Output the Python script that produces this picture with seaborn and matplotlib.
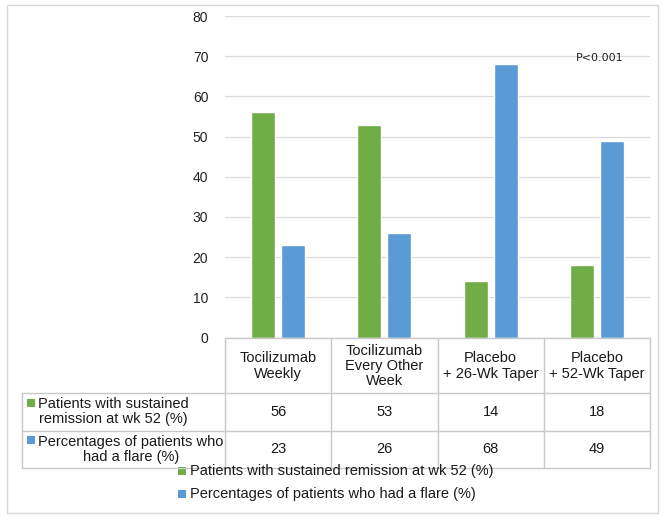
import matplotlib
matplotlib.use("Agg")
import matplotlib.pyplot as plt
from matplotlib.patches import Rectangle
import seaborn as sns
import pandas as pd

# data
categories = ["Tocilizumab\nWeekly", "Tocilizumab\nEvery Other\nWeek",
              "Placebo\n+ 26-Wk Taper", "Placebo\n+ 52-Wk Taper"]
series_names = ["Patients with sustained remission at wk 52 (%)",
                "Percentages of patients who had a flare (%)"]
row_labels = ["Patients with sustained\nremission at wk 52 (%)",
              "Percentages of patients who\nhad a flare (%)"]
remission = [56, 53, 14, 18]
flare = [23, 26, 68, 49]
y_ticks = [0, 10, 20, 30, 40, 50, 60, 70, 80]
colors = ["#70AD47", "#5B9BD5"]

rows = []
for cat, r, f in zip(categories, remission, flare):
    rows.append({"cat": cat, "series": series_names[0], "value": r})
    rows.append({"cat": cat, "series": series_names[1], "value": f})
df = pd.DataFrame(rows)

sns.set_theme(style="white")
plt.rcParams["font.family"] = ["Liberation Sans", "DejaVu Sans"]

W, H = 669, 522
fig = plt.figure(figsize=(W / 100, H / 100), dpi=100)

# pixel positions of the plot area
x0, x1 = 225, 650
y_top, y_zero = 16, 337.5
ax = fig.add_axes([x0 / W, 1 - y_zero / H, (x1 - x0) / W, (y_zero - y_top) / H])

sns.barplot(data=df, x="cat", y="value", hue="series", palette=colors,
            width=0.565, gap=0.2, saturation=1, ax=ax, legend=False, zorder=3)
ax.set_ylim(0, 80)
ax.set_xlim(-0.5, len(categories) - 0.5)
ax.set_yticks(y_ticks)
ax.set_yticklabels([str(t) for t in y_ticks], fontsize=10, color="#222222")
ax.set_xticks([])
ax.set_xlabel("")
ax.set_ylabel("")
ax.tick_params(axis="y", length=0, pad=12)
for s in ax.spines.values():
    s.set_visible(False)
ax.grid(axis="y", color="#D9D9D9", linewidth=0.9, zorder=0)
ax.text(3.03, 69.6, "P<0.001", ha="center", va="center", fontsize=8,
        family="DejaVu Sans", color="#222222")

# overlay in pixel coordinates for the data table and legend
ov = fig.add_axes([0, 0, 1, 1], facecolor="none")
ov.set_xlim(0, W)
ov.set_ylim(H, 0)
ov.axis("off")

line_c = "#C8C8C8"
ov.add_patch(Rectangle((7, 5), 651, 508, fill=False, edgecolor="#D9D9D9", lw=1))

n = len(categories)
col_w = (x1 - x0) / n
col_edges = [x0 + i * col_w for i in range(n + 1)]
hdr_bot, r1_bot, r2_bot = 392.5, 430.5, 468
lbl_left = 22

ov.plot([x0, x1], [y_zero, y_zero], color=line_c, lw=1)
for y in (hdr_bot, r1_bot, r2_bot):
    ov.plot([lbl_left, x1], [y, y], color=line_c, lw=1)
for xe in col_edges:
    ov.plot([xe, xe], [y_zero, r2_bot], color=line_c, lw=1)
ov.plot([lbl_left, lbl_left], [hdr_bot, r2_bot], color=line_c, lw=1)

txt_c = "#1a1a1a"
fs = 10.5
for i, cat in enumerate(categories):
    cx = x0 + (i + 0.5) * col_w
    ov.text(cx, (y_zero + hdr_bot) / 2 + 1, cat, ha="center", va="center",
            fontsize=fs, color=txt_c, linespacing=1.1)
    ov.text(cx, (hdr_bot + r1_bot) / 2, str(remission[i]), ha="center",
            va="center", fontsize=fs, color=txt_c)
    ov.text(cx, (r1_bot + r2_bot) / 2, str(flare[i]), ha="center",
            va="center", fontsize=fs, color=txt_c)

row_mid = [(hdr_bot + r1_bot) / 2, (r1_bot + r2_bot) / 2]
for lbl, ym, c in zip(row_labels, row_mid, colors):
    ov.text(38, ym, lbl, ha="left", va="center", multialignment="center",
            fontsize=fs, color=txt_c, linespacing=1.1)
    ov.add_patch(Rectangle((27, ym - 13), 8, 8, color=c, lw=0))

# legend under the table
for j, (name, c) in enumerate(zip(series_names, colors)):
    ly = 471 + j * 23
    ov.add_patch(Rectangle((178, ly - 4), 8, 8, color=c, lw=0))
    ov.text(190, ly, name, ha="left", va="center", fontsize=fs, color=txt_c)

fig.savefig("out.png", dpi=100)
